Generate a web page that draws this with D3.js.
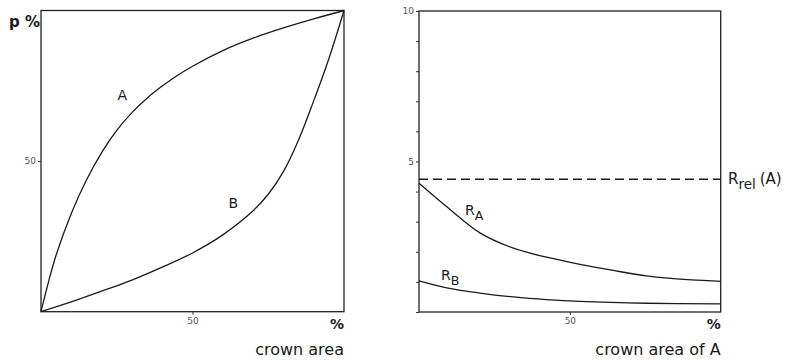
<!DOCTYPE html>
<html lang="en">
<head>
  <meta charset="utf-8" />
  <title>Crown area curves</title>
  <script src="https://cdn.jsdelivr.net/npm/d3@7"></script>
  <style>
    body { margin:0; background:#fff; font-family:"DejaVu Sans", sans-serif; }
    .frame { fill:none; stroke:#222; stroke-width:1.3; }
    .curve { fill:none; stroke:#1a1a1a; stroke-width:1.3; }
    .tick text { font-size:9px; fill:#555; font-family:"DejaVu Sans", sans-serif; }
    .tick line { stroke:#333; }
    .domain { display:none; }
    .lbl { fill:#1a1a1a; }
  </style>
</head>
<body>
<div id="chart"></div>
<script>
// --- data ------------------------------------------------------------------
// left panel: p% against crown area (%)
const curveA_x = [0, 2.5, 5, 10, 15, 20, 25, 30, 35, 40, 45, 50, 60, 70, 80, 90, 100];
const curveA_y = [0, 10, 18.8, 32.6, 43.7, 52.8, 60.2, 66.1, 70.9, 74.9, 78.4, 81.5, 86.7, 90.8, 94.2, 97.2, 100];
const curveB_x = [0, 10, 20, 30, 40, 50, 60, 70, 75, 80, 85, 90, 95, 100];
const curveB_y = [0, 3.3, 6.8, 10.5, 14.8, 19.5, 25.5, 33.5, 39, 46.5, 57, 70, 84, 100];

// right panel: R against crown area of A (%)
const RA_x = [0, 9.2, 20.2, 31.3, 42.3, 53.4, 64.4, 75.5, 86.5, 100];
const RA_y = [4.28, 3.5, 2.63, 2.12, 1.82, 1.58, 1.38, 1.2, 1.09, 1.02];
const RB_x = [0, 9.2, 20.2, 31.3, 42.3, 53.4, 75.5, 100];
const RB_y = [1.03, 0.8, 0.63, 0.5, 0.41, 0.35, 0.29, 0.27];
const Rrel = 4.41;

// ticks
const leftXTicks = [50];
const leftYTicks = [50];
const rightXTicks = [50];
const rightYTicks = [0, 1, 2, 3, 4, 5, 6, 7, 8, 9, 10];
const rightYLabels = [5, 10];

// --- chart -----------------------------------------------------------------
const W = 789, H = 360;
const svg = d3.select("#chart").append("svg").attr("width", W).attr("height", H);

const toPts = (xs, ys) => xs.map((x, i) => ({x, y: ys[i]}));

// left panel
const xL = d3.scaleLinear().domain([0, 100]).range([41, 344]);
const yL = d3.scaleLinear().domain([0, 100]).range([311.7, 10.5]);

// right panel
const xR = d3.scaleLinear().domain([0, 100]).range([419, 720.7]);
const yR = d3.scaleLinear().domain([0, 10]).range([312, 11]);

function frame(x, y) {
  svg.append("rect").attr("class", "frame")
    .attr("x", x.range()[0]).attr("y", y.range()[1])
    .attr("width", x.range()[1] - x.range()[0])
    .attr("height", y.range()[0] - y.range()[1]);
}

function axes(x, y, xt, yt, yfmt) {
  svg.append("g").attr("transform", `translate(0,${y.range()[0]})`)
    .call(d3.axisBottom(x).tickValues(xt).tickSize(3).tickPadding(3));
  svg.append("g").attr("transform", `translate(${x.range()[0]},0)`)
    .call(d3.axisLeft(y).tickValues(yt).tickSize(3).tickPadding(2).tickFormat(yfmt || (d => d)));
}

axes(xL, yL, leftXTicks, leftYTicks);
axes(xR, yR, rightXTicks, rightYTicks, d => rightYLabels.includes(d) ? d : "");
frame(xL, yL);
frame(xR, yR);

function curve(x, y, pts) {
  const line = d3.line().x(d => x(d.x)).y(d => y(d.y)).curve(d3.curveCatmullRom.alpha(0.5));
  svg.append("path").attr("class", "curve").datum(pts).attr("d", line);
}

curve(xL, yL, toPts(curveA_x, curveA_y));
curve(xL, yL, toPts(curveB_x, curveB_y));
curve(xR, yR, toPts(RA_x, RA_y));
curve(xR, yR, toPts(RB_x, RB_y));

// R_rel dashed line
svg.append("line")
  .attr("x1", xR(0)).attr("x2", xR(100))
  .attr("y1", yR(Rrel)).attr("y2", yR(Rrel))
  .attr("stroke", "#1a1a1a").attr("stroke-width", 1.3)
  .attr("stroke-dasharray", "9 5");

// --- labels ----------------------------------------------------------------
const txt = (x, y, s, size, anchor, weight) =>
  svg.append("text").attr("class", "lbl")
    .attr("x", x).attr("y", y)
    .attr("font-size", size)
    .attr("text-anchor", anchor || "start")
    .attr("font-weight", weight || "normal")
    .text(s);

txt(9, 27, "p %", 15, "start", "bold");
txt(xL(100), 329, "%", 14, "end", "bold");
txt(xR(100), 329, "%", 14, "end", "bold");
txt(xL(100), 355, "crown area", 16, "end");
txt(xR(100), 355, "crown area of A", 16, "end");

txt(xL(26.8), yL(71.9) + 5, "A", 14, "middle");
txt(xL(63.5), yL(36) + 5, "B", 14, "middle");

// subscripted labels
function subLabel(x, y, main, sub, rest, size) {
  const t = svg.append("text").attr("class", "lbl").attr("x", x).attr("y", y).attr("font-size", size);
  t.append("tspan").text(main);
  t.append("tspan").attr("dy", 5).attr("font-size", size * 0.9).text(sub);
  if (rest) t.append("tspan").attr("dy", -5).attr("dx", 4).text(rest);
}
subLabel(728, 184, "R", "rel", "(A)", 15);
subLabel(465, 215, "R", "A", null, 14);
subLabel(441, 280, "R", "B", null, 14);
</script>
</body>
</html>
